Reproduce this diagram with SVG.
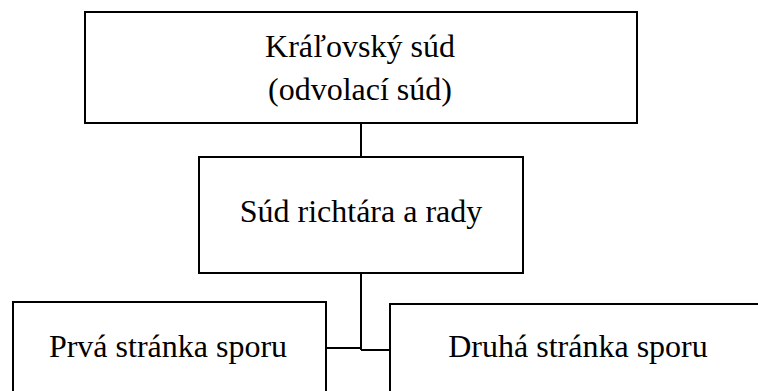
<svg xmlns="http://www.w3.org/2000/svg" width="758" height="391" viewBox="0 0 758 391">
<style>
.box{fill:#fff;stroke:#000;stroke-width:2}
.lbl{font-family:'Liberation Serif','Times New Roman',serif;font-size:32px;fill:#000;text-anchor:middle}
.con{fill:none;stroke:#000;stroke-width:2}
</style>
<rect width="758" height="391" fill="#fff"/>
<g id="connectors">
<path class="con" d="M361 123V157"/>
<path class="con" d="M361 273V350"/>
<path class="con" d="M326 348H361"/>
<path class="con" d="M361 350H390"/>
</g>
<g id="kralovsky-sud">
<rect class="box" x="85" y="12" width="552" height="111"/>
<text class="lbl" x="360" y="57">Kráľovský súd</text>
<text class="lbl" x="360" y="100">(odvolací súd)</text>
</g>
<g id="sud-richtara">
<rect class="box" x="199" y="157" width="324" height="116"/>
<text class="lbl" x="361" y="222">Súd richtára a rady</text>
</g>
<g id="prva-stranka">
<rect class="box" x="13" y="302" width="313" height="100"/>
<text class="lbl" x="168" y="357">Prvá stránka sporu</text>
</g>
<g id="druha-stranka">
<rect class="box" x="390" y="304" width="380" height="100"/>
<text class="lbl" x="578" y="357">Druhá stránka sporu</text>
</g>
</svg>
